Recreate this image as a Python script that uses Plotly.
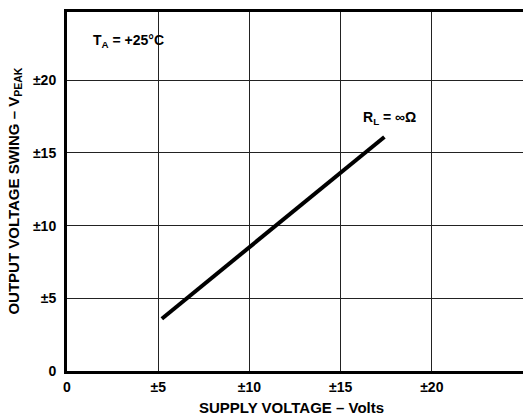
import plotly.graph_objects as go

# Data
supply_v = [5.2, 17.4]
output_swing = [3.6, 16.1]
tick_vals = [0, 5, 10, 15, 20]
x_tick_text = ["0", "±5", "±10", "±15", "±20"]
y_tick_text = ["0", "±5", "±10", "±15", "±20"]

FONT = "Liberation Sans, Arial, sans-serif"

fig = go.Figure()
fig.add_trace(go.Scatter(x=supply_v, y=output_swing, mode="lines",
                         line=dict(color="black", width=4), showlegend=False,
                         hoverinfo="skip"))

tick_font = dict(family=FONT, size=14, color="black", weight="bold")

fig.update_layout(
    width=523, height=420,
    margin=dict(l=67, r=0, t=12, b=49, autoexpand=False),
    paper_bgcolor="white", plot_bgcolor="white",
    font=dict(family=FONT, size=14, color="black"),
    xaxis=dict(range=[0, 25], tickvals=tick_vals, ticktext=x_tick_text,
               showgrid=True, gridcolor="#222222", gridwidth=1,
               zeroline=False, showline=True, linecolor="black", linewidth=3,
               mirror=True, ticks="outside", ticklen=1, tickcolor="white",
               automargin=False, tickfont=tick_font),
    yaxis=dict(range=[0, 24.7], tickvals=tick_vals, ticktext=y_tick_text,
               showgrid=True, gridcolor="#222222", gridwidth=1,
               zeroline=False, showline=True, linecolor="black", linewidth=3,
               mirror=False, ticks="outside", ticklen=5, tickcolor="white",
               automargin=False, tickfont=tick_font),
    annotations=[
        dict(x=0.492, y=-0.103, xref="paper", yref="paper",
             xanchor="center", yanchor="middle",
             text="<b>SUPPLY VOLTAGE – Volts</b>", showarrow=False,
             font=dict(family=FONT, size=15, color="black")),
        dict(x=-0.116, y=0.5, xref="paper", yref="paper", textangle=-90,
             xanchor="center", yanchor="middle",
             text="<b>OUTPUT VOLTAGE SWING – V<sub>PEAK</sub></b>", showarrow=False,
             font=dict(family=FONT, size=15, color="black")),
        dict(x=1.3, y=22.7, xref="x", yref="y", xanchor="left", yanchor="middle",
             text="<b>T<sub>A</sub> = +25°C</b>", showarrow=False,
             font=dict(family=FONT, size=14, color="black")),
        dict(x=16.1, y=17.4, xref="x", yref="y", xanchor="left", yanchor="middle",
             text="<b>R<sub>L</sub> = ∞Ω</b>", showarrow=False,
             font=dict(family=FONT, size=14, color="black")),
    ],
)

fig.write_html("out.html", config={"displayModeBar": False},
               post_script="document.body.style.margin='0';document.body.style.overflow='hidden';")
